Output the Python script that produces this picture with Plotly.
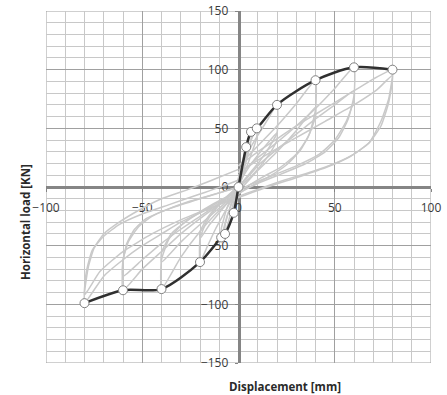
import plotly.graph_objects as go

# Envelope (backbone) of the cyclic test: displacement [mm] vs horizontal load [kN]
env_x = [-80, -60, -40, -20, -9, -7, -2.5, 0, 4, 6.5, 9.5, 20, 40, 60, 80]
env_y = [-99, -88, -87, -64, -43, -40, -22, 0, 34, 47, 50, 70, 91, 102, 100]

# Hysteresis cycles (one full cycle per list pair)
cyc4_x = [0, 2, 4, 4, 2, 0, -2, -3, -3, -1, 0]
cyc4_y = [0, 20, 34, 28, 10, -3, -15, -22, -18, -5, 2]

cyc7_x = [0, 3, 6.5, 6.5, 4, 1, -2, -5, -7, -7, -4, -1, 0]
cyc7_y = [5, 25, 47, 40, 22, 5, -10, -28, -40, -33, -15, 0, 6]

cyc10_x = [0, 4, 9.5, 9.5, 6, 2, -2, -6, -9, -9, -6, -2, 0]
cyc10_y = [8, 30, 50, 42, 25, 8, -8, -25, -43, -36, -18, -2, 8]

cyc20a_x = [0, 5, 10, 15, 20, 20, 16, 11, 6, 2, 0, -4, -8, -12, -16, -20, -20, -17, -13, -8, -3, 0]
cyc20a_y = [12, 30, 44, 57, 70, 46, 34, 22, 12, 4, 0, -12, -24, -36, -50, -64, -44, -31, -21, -12, -4, 2]

cyc20b_x = [0, 5, 10, 15, 20, 20, 16, 11, 6, 2, 0, -5, -10, -15, -20, -20, -16, -11, -6, -2, 0]
cyc20b_y = [3, 16, 27, 37, 46, 40, 28, 17, 8, 2, -2, -12, -22, -32, -44, -38, -26, -16, -8, -2, 3]

cyc40a_x = [0, 10, 20, 30, 40, 40, 37, 32, 25, 16, 8, 0, -10, -20, -30, -40, -40, -36, -28, -18, -8, 0]
cyc40a_y = [18, 35, 52, 71, 91, 66, 46, 31, 19, 9, 2, -6, -20, -38, -60, -87, -62, -44, -30, -19, -10, -4]

cyc40b_x = [0, 10, 20, 30, 40, 40, 36, 30, 22, 12, 4, 0, -10, -20, -30, -40, -40, -35, -26, -16, -6, 0]
cyc40b_y = [-4, 14, 30, 48, 68, 60, 42, 28, 17, 8, 0, -4, -18, -32, -47, -64, -56, -40, -28, -18, -9, 0]

cyc60a_x = [0, 10, 20, 30, 40, 50, 60, 60, 57, 52, 45, 35, 22, 10, 0, -10, -20, -30, -40, -50, -60, -60, -58, -54, -48, -40, -25, -10, 0]
cyc60a_y = [10, 25, 38, 52, 67, 84, 102, 78, 58, 42, 30, 20, 11, 3, -5, -15, -27, -40, -55, -70, -88, -64, -48, -36, -27, -21, -12, -5, 0]

cyc60b_x = [0, 10, 20, 30, 40, 50, 60, 60, 56, 50, 42, 30, 18, 6, 0, -10, -20, -30, -40, -50, -60, -60, -57, -52, -45, -35, -20, -6, 0]
cyc60b_y = [0, 18, 32, 45, 58, 70, 82, 74, 56, 40, 28, 18, 10, 2, -3, -14, -25, -36, -48, -62, -76, -62, -46, -34, -25, -18, -10, -3, 0]

cyc80a_x = [0, 10, 20, 30, 40, 50, 60, 70, 80, 80, 78, 74, 68, 58, 46, 32, 15, 0, -10, -20, -30, -40, -50, -60, -70, -80, -80, -78, -75, -70, -62, -52, -40, -26, -12, 0]
cyc80a_y = [18, 30, 41, 52, 62, 72, 82, 92, 100, 95, 75, 56, 38, 26, 17, 9, 0, -9, -15, -22, -30, -40, -50, -62, -76, -99, -90, -68, -52, -40, -30, -20, -10, -2, 7, 15]

cyc80b_x = [0, 15, 30, 45, 60, 72, 80, 78, 74, 68, 60, 50, 38, 24, 10, 0, -15, -30, -45, -60, -72, -80, -79, -76, -70, -62, -50, -36, -20, -6, 0]
cyc80b_y = [12, 28, 42, 56, 70, 83, 95, 72, 52, 38, 28, 20, 13, 6, -2, -8, -18, -28, -40, -55, -72, -92, -72, -54, -42, -32, -23, -15, -6, 2, 6]

cycles = [
    (cyc4_x, cyc4_y), (cyc7_x, cyc7_y), (cyc10_x, cyc10_y),
    (cyc20a_x, cyc20a_y), (cyc20b_x, cyc20b_y),
    (cyc40a_x, cyc40a_y), (cyc40b_x, cyc40b_y),
    (cyc60a_x, cyc60a_y), (cyc60b_x, cyc60b_y),
    (cyc80a_x, cyc80a_y), (cyc80b_x, cyc80b_y),
]

fig = go.Figure()

for cx, cy in cycles:
    fig.add_trace(go.Scatter(
        x=cx, y=cy, mode="lines",
        line=dict(color="#c9c9c9", width=1.5, shape="spline", smoothing=0.5),
        hoverinfo="skip", showlegend=False,
    ))

fig.add_trace(go.Scatter(
    x=env_x, y=env_y, mode="lines+markers",
    line=dict(color="#303030", width=2.5, shape="spline", smoothing=0.8),
    marker=dict(size=9, color="white", line=dict(color="#808080", width=1)),
    showlegend=False,
))

tick_font = dict(family="Open Sans, sans-serif", size=12, color="#3a3a3a")

axis_common = dict(
    domain=[0, 1], anchor="free", position=0.5, automargin=False,
    tick0=0, dtick=50, showgrid=True, gridcolor="#a0a0a0", gridwidth=1,
    minor=dict(dtick=10, showgrid=True, gridcolor="#c8c8c8", gridwidth=1),
    zeroline=False, showline=True, linecolor="#858585", linewidth=2.5,
    ticks="outside", ticklen=3, tickcolor="#858585",
    tickfont=tick_font, layer="below traces",
)
fig.update_xaxes(range=[-100, 100], ticklabelstandoff=6, **axis_common)
fig.update_yaxes(range=[-150, 150], ticklabelstandoff=4, **axis_common)

fig.add_shape(type="rect", xref="x", yref="y", x0=-100, y0=-150, x1=100, y1=150,
              line=dict(color="#a0a0a0", width=1), layer="below")

title_font = dict(family="Open Sans, sans-serif", size=11.5, color="#2a2a2a")
fig.add_annotation(text="<b>Displacement [mm]</b>", xref="paper", yref="paper",
                   x=0.621, y=-0.068, showarrow=False, font=title_font,
                   xanchor="center", yanchor="middle")
fig.add_annotation(text="<b>Horizontal load [KN]</b>", xref="paper", yref="paper",
                   x=-0.055, y=0.40, showarrow=False, font=title_font, textangle=-90,
                   xanchor="center", yanchor="middle")

fig.update_layout(
    width=447, height=395,
    margin=dict(l=46, r=16, t=11, b=32),
    paper_bgcolor="white", plot_bgcolor="white",
)

fig.write_html("out.html")
